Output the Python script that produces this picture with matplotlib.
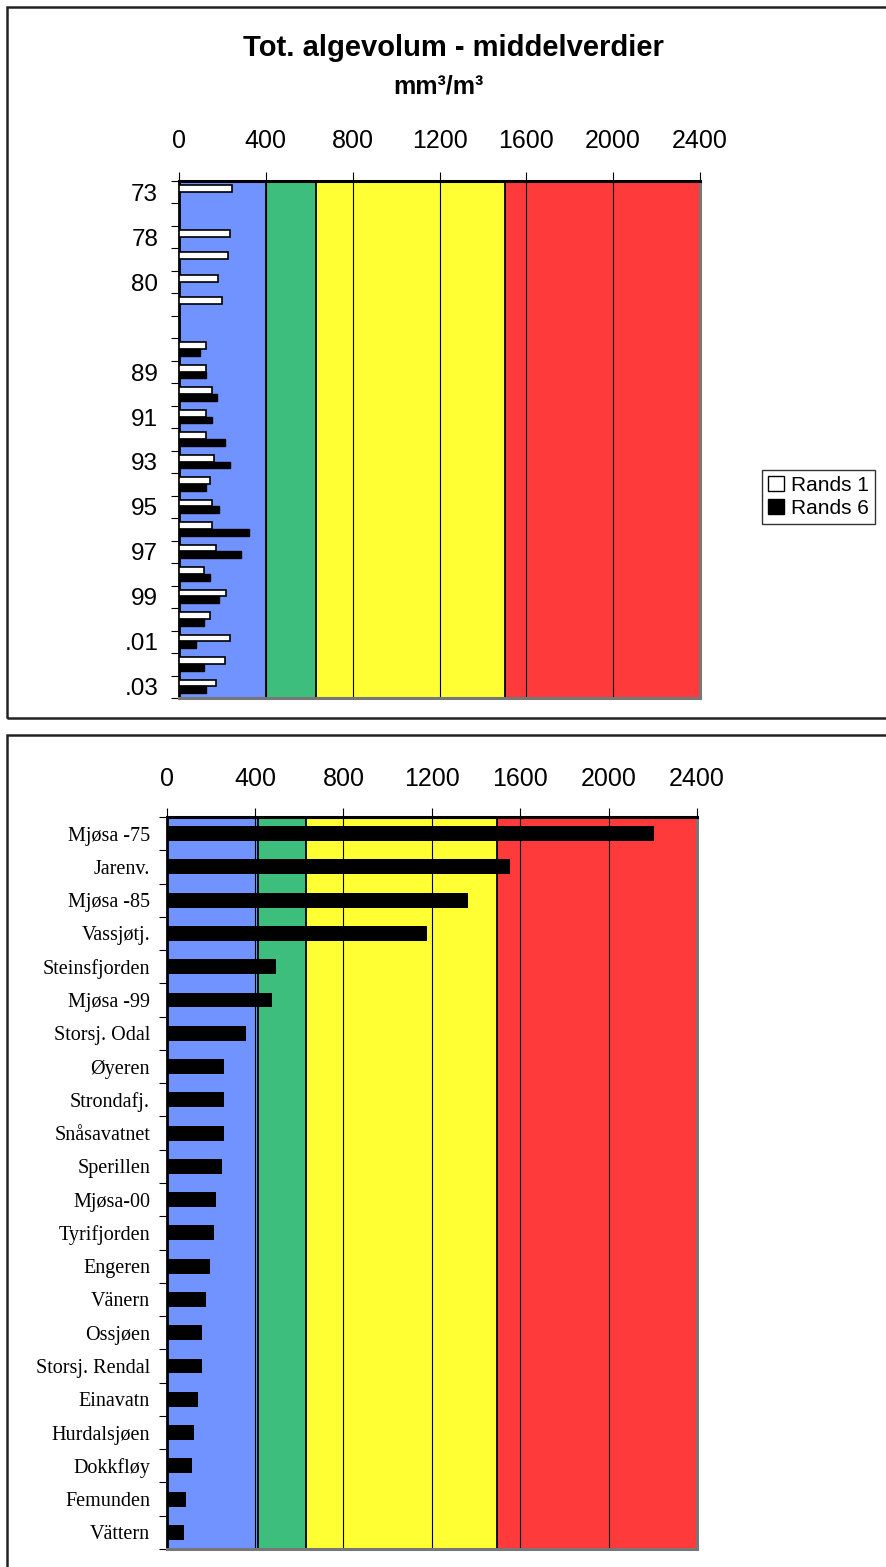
import numpy as np
import matplotlib
matplotlib.use("Agg")
import matplotlib.pyplot as plt
from matplotlib.patches import Rectangle, Patch

plt.rcParams['font.family'] = ['Liberation Sans', 'DejaVu Sans']

# ---------------- data ----------------
years = ["73", "", "78", "79", "80", "81", "", "88", "89", "90", "91", "92",
         "93", "94", "95", "96", "97", "98", "99", ".00", ".01", ".02", ".03"]
rands1 = [242, np.nan, 233, 225, 179, 196, np.nan, 123, 125, 150, 123, 123,
          159, 142, 150, 150, 170, 113, 218, 142, 235, 210, 170]
rands6 = [np.nan, np.nan, np.nan, np.nan, np.nan, np.nan, np.nan, 99, 125, 173, 153, 210,
          236, 125, 182, 321, 284, 145, 182, 116, 79, 116, 125]

lakes = ["Mjøsa -75", "Jarenv.", "Mjøsa -85", "Vassjøtj.", "Steinsfjorden", "Mjøsa -99",
         "Storsj. Odal", "Øyeren", "Strondafj.", "Snåsavatnet", "Sperillen", "Mjøsa-00",
         "Tyrifjorden", "Engeren", "Vänern", "Ossjøen", "Storsj. Rendal", "Einavatn",
         "Hurdalsjøen", "Dokkfløy", "Femunden", "Vättern"]
lake_values = [2206, 1555, 1364, 1179, 495, 477, 359, 260, 260, 260, 249, 223,
               213, 196, 177, 160, 160, 140, 124, 115, 87, 78]

band_edges_top = [0, 400, 630, 1500, 2400]
band_edges_bottom = [0, 415, 630, 1495, 2400]
band_colors = ['#7093ff', '#3ebe7c', '#ffff33', '#ff3a3a']
xticks = [0, 400, 800, 1200, 1600, 2000, 2400]
grid_vals = [400, 800, 1200, 1600, 2000]

W, H = 886, 1567
fig = plt.figure(figsize=(W / 100, H / 100), dpi=100)


def fx(px):
    return px / W


def fy(py):
    return 1 - py / H


# outer boxes
fig.patches.append(Rectangle((fx(7), fy(718)), fx(900) - fx(7), fy(7) - fy(718),
                             transform=fig.transFigure, fill=False, lw=1.8, ec='#222222'))
fig.patches.append(Rectangle((fx(7), fy(1600)), fx(900) - fx(7), fy(735) - fy(1600),
                             transform=fig.transFigure, fill=False, lw=1.8, ec='#222222'))


def style_axes(ax, edges, pad):
    for i in range(len(band_colors)):
        ax.axvspan(edges[i], edges[i + 1], color=band_colors[i], zorder=0, lw=0)
    for e in edges[1:-1]:
        ax.axvline(e, color='black', lw=1.3, zorder=1)
    for g in grid_vals:
        ax.axvline(g, color='black', lw=0.8, zorder=1)
    ax.set_xlim(0, 2400)
    ax.set_xticks(xticks)
    ax.xaxis.tick_top()
    ax.tick_params(axis='x', which='major', direction='out', length=6.5, width=0.8,
                   labelsize=18, pad=pad)
    ax.spines['top'].set_linewidth(2.2)
    ax.spines['top'].set_color('black')
    ax.spines['left'].set_linewidth(2.0)
    ax.spines['left'].set_color('black')
    ax.spines['right'].set_linewidth(2.2)
    ax.spines['right'].set_color('#777777')
    ax.spines['bottom'].set_linewidth(2.2)
    ax.spines['bottom'].set_color('#777777')


# ---------------- top chart ----------------
ax1 = fig.add_axes([fx(179), fy(698), fx(700) - fx(179), fy(181) - fy(698)])
style_axes(ax1, band_edges_top, 13.5)
n1 = len(years)
pos = np.arange(n1)
r1 = np.array(rands1, dtype=float)
r6 = np.array(rands6, dtype=float)
m1 = ~np.isnan(r1)
m6 = ~np.isnan(r6)
ax1.barh(pos[m1] - 0.17, r1[m1], height=0.3, color='white', edgecolor='black',
         lw=1.2, zorder=3, label='Rands 1')
ax1.barh(pos[m6] + 0.13, r6[m6], height=0.3, color='black', edgecolor='black',
         lw=1.0, zorder=3, label='Rands 6')
ax1.set_ylim(n1 - 0.5, -0.5)
ax1.set_yticks(np.arange(-0.5, n1, 1))
ax1.set_yticklabels([])
ax1.set_yticks(pos, minor=True)
ax1.set_yticklabels([y if i % 2 == 0 else "" for i, y in enumerate(years)], minor=True)
ax1.tick_params(axis='y', which='major', direction='out', length=6, width=0.8)
ax1.tick_params(axis='y', which='minor', length=0, labelsize=17.5, pad=15)

fig.text(fx(453), fy(48), "Tot. algevolum - middelverdier", ha='center', va='center',
         fontsize=21, fontweight='bold')
fig.text(fx(438), fy(87), "mm³/m³", ha='center', va='center', fontsize=18,
         fontweight='bold')

handles = [Patch(facecolor='white', edgecolor='black', lw=1.0),
           Patch(facecolor='black', edgecolor='black', lw=1.0)]
leg = fig.legend(handles, ['Rands 1', 'Rands 6'], loc='center left',
                 bbox_to_anchor=(fx(762), fy(497)), fontsize=15, frameon=True,
                 fancybox=False, shadow=False, handlelength=0.75, handleheight=0.75,
                 handletextpad=0.35, borderpad=0.3, labelspacing=0.2, borderaxespad=0)
leg.get_frame().set_edgecolor('black')
leg.get_frame().set_linewidth(1.0)

# ---------------- bottom chart ----------------
ax2 = fig.add_axes([fx(166.7), fy(1549), fx(697) - fx(166.7), fy(817) - fy(1549)])
style_axes(ax2, band_edges_bottom, 12)
n2 = len(lakes)
pos2 = np.arange(n2)
ax2.barh(pos2, lake_values, height=0.45, color='black', zorder=3)
ax2.set_ylim(n2 - 0.5, -0.5)
ax2.set_yticks(np.arange(-0.5, n2, 1))
ax2.set_yticklabels([])
ax2.set_yticks(pos2, minor=True)
ax2.set_yticklabels(lakes, minor=True, family=['Liberation Serif', 'DejaVu Serif'])
ax2.tick_params(axis='y', which='major', direction='out', length=5.5, width=0.8)
ax2.tick_params(axis='y', which='minor', length=0, labelsize=14.5, pad=12)

fig.savefig("out.png", dpi=100)
